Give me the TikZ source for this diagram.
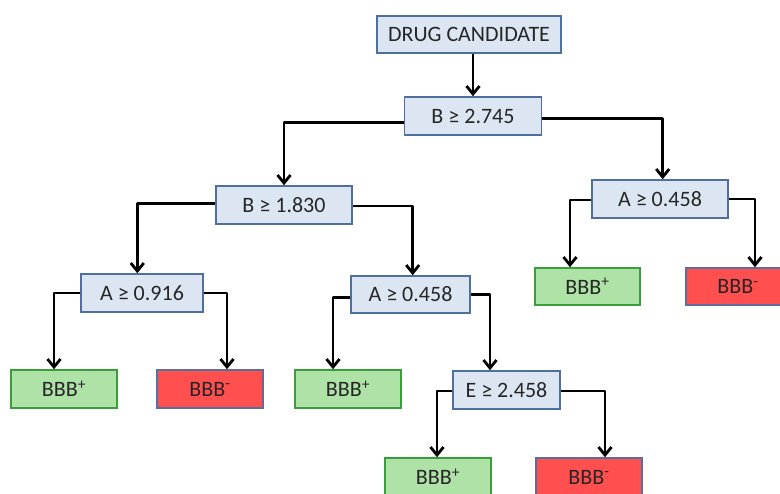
\documentclass[tikz,border=0pt]{standalone}
\usepackage{fontspec}
\setmainfont{Carlito}
\usetikzlibrary{arrows.meta}
\definecolor{qfill}{HTML}{DCE6F2}
\definecolor{qdraw}{HTML}{4F6F9F}
\definecolor{gfill}{HTML}{AEE2A6}
\definecolor{gdraw}{HTML}{3A9E3A}
\definecolor{rfill}{HTML}{FF4F4F}
\definecolor{rdraw}{HTML}{5A6E9E}
\tikzset{
  lbl/.style={font=\fontsize{22}{24}\selectfont, text=black!85},
  qbox/.style={lbl, draw=qdraw, fill=qfill, line width=1.5pt, inner sep=0pt, minimum height=38pt},
  posbox/.style={lbl, draw=gdraw, fill=gfill, line width=1.5pt, inner sep=0pt, minimum width=106pt, minimum height=38pt},
  negbox/.style={lbl, draw=rdraw, fill=rfill, line width=1.5pt, inner sep=0pt, minimum width=106pt, minimum height=38pt},
  arr/.style={line width=2.8pt, line join=round, -{Straight Barb[length=8pt,width=13pt,line width=2.8pt]}}
}
\begin{document}
\begin{tikzpicture}[x=1pt,y=-1pt]
\useasboundingbox (0,0) rectangle (780,494);
\fill[white] (0,0) rectangle (780,494);
\begin{scope}
\clip (0,0) rectangle (780,494);
\node[qbox, minimum width=184pt, minimum height=37pt] (dc) at (469,34.5) {DRUG CANDIDATE};
\node[qbox, minimum width=137pt] (b1) at (473,116) {B ≥ 2.745};
\node[qbox, minimum width=136pt] (b2) at (284,205) {B ≥ 1.830};
\node[qbox, minimum width=136pt] (a3) at (660,199) {A ≥ 0.458};
\node[qbox, minimum width=122pt] (a1) at (142,293) {A ≥ 0.916};
\node[qbox, minimum width=119pt, minimum height=37pt] (a2) at (410.5,294.5) {A ≥ 0.458};
\node[qbox, minimum width=107pt] (e) at (506.5,390) {E ≥ 2.458};
\node[posbox] (l1) at (64,389) {BBB\textsuperscript{+}};
\node[negbox] (l2) at (210,389) {BBB\textsuperscript{-}};
\node[posbox] (l3) at (348,389) {BBB\textsuperscript{+}};
\node[posbox, minimum width=105pt, minimum height=37pt] (l4) at (587.5,286.5) {BBB\textsuperscript{+}};
\node[negbox, minimum width=104pt, minimum height=37pt] (l5) at (738,286.5) {BBB\textsuperscript{-}};
\node[posbox] (l6) at (438,477) {BBB\textsuperscript{+}};
\node[negbox] (l7) at (589,477) {BBB\textsuperscript{-}};

\draw[arr] (b1.north |- dc.south) -- (b1.north);
\draw[arr] ([yshift=-6.3pt]b1.west) -| (b2.north);
\draw[arr] ([yshift=-2.3pt]b1.east) -| ([xshift=2.7pt]a3.north);
\draw[arr] ([yshift=1.7pt]b2.west) -| ([xshift=-4.7pt]a1.north);
\draw[arr] ([yshift=-1pt]b2.east) -| ([xshift=2.2pt]a2.north);
\draw[arr] (a1.west) -| ([xshift=-10pt]l1.north);
\draw[arr] (a1.east) -| ([xshift=17pt]l2.north);
\draw[arr] ([yshift=-3pt]a2.west) -| ([xshift=-15pt]l3.north);
\draw[arr] (a2.east) -| ([xshift=-16.5pt]e.north);
\draw[arr] ([yshift=-1pt]a3.west) -| ([xshift=-17.5pt]l4.north);
\draw[arr] (a3.east) -| ([xshift=17pt]l5.north);
\draw[arr] ([yshift=-1pt]e.west) -| ([xshift=-1pt]l6.north);
\draw[arr] ([yshift=-1pt]e.east) -| ([xshift=16pt]l7.north);
\end{scope}
\end{tikzpicture}
\end{document}
